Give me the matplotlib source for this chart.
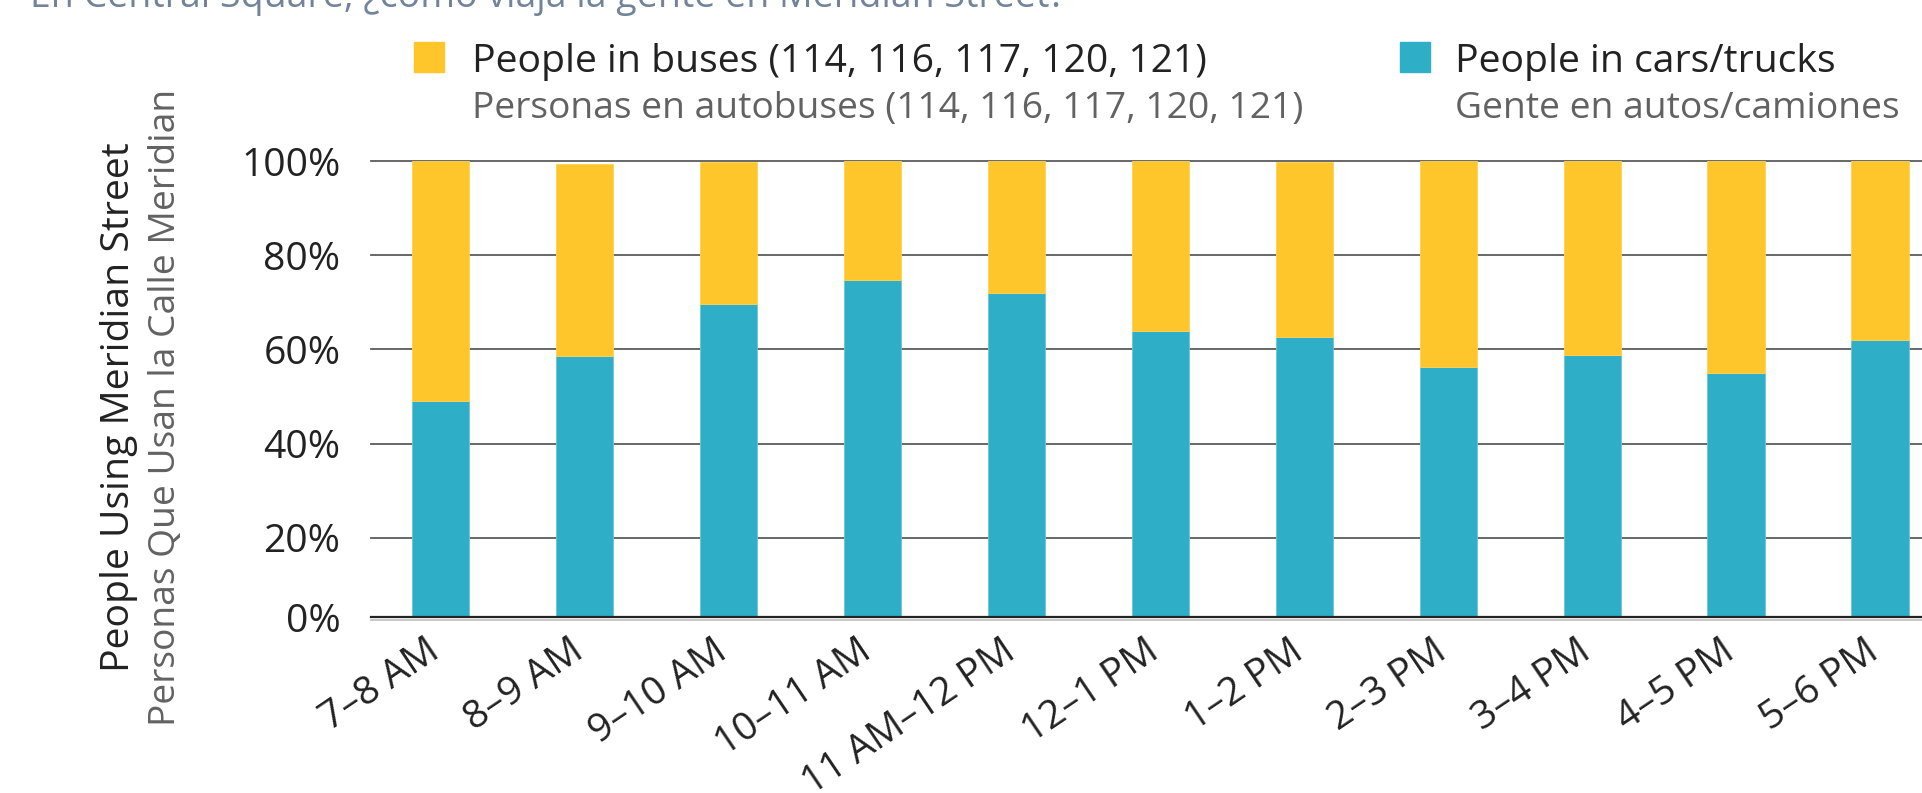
import matplotlib
matplotlib.use("Agg")
import matplotlib.pyplot as plt
from matplotlib.patches import Rectangle
from matplotlib.lines import Line2D
from matplotlib.transforms import ScaledTranslation

plt.rcParams["font.family"] = ["Open Sans", "DejaVu Sans"]

# ---- data -------------------------------------------------------------
time_slots = ["7–8 AM", "8–9 AM", "9–10 AM", "10–11 AM", "11 AM–12 PM",
              "12–1 PM", "1–2 PM", "2–3 PM", "3–4 PM", "4–5 PM", "5–6 PM"]
cars_pct = [49.0, 58.5, 69.6, 74.7, 72.0, 63.9, 62.6, 56.3, 58.8, 54.9, 62.0]
bus_pct = [51.0, 40.9, 30.2, 25.3, 27.9, 36.1, 37.2, 43.7, 41.2, 45.0, 38.0]

y_floor = 3.2
y_tick_values = [y_floor, 20, 40, 60, 80, 100]
y_tick_labels = ["0%", "20%", "40%", "60%", "80%", "100%"]

legend_en = ["People in buses (114, 116, 117, 120, 121)", "People in cars/trucks"]
legend_es = ["Personas en autobuses (114, 116, 117, 120, 121)", "Gente en autos/camiones"]
ylabel_en = "People Using Meridian Street"
ylabel_es = "Personas Que Usan la Calle Meridian"
title_text = "En Central Square, ¿cómo viaja la gente en Meridian Street?"

# ---- style ------------------------------------------------------------
BUS = "#fec62b"
CAR = "#2eafc7"
DARK = "#222222"
GREY = "#626262"
GRID = "#5c5c5c"
FS_EN = 28.2
FS_ES = 26.8
FS_TITLE = 27.0

W, H = 1922, 793
fig = plt.figure(figsize=(W / 100, H / 100), dpi=100)
ax = fig.add_axes([371 / W, 1 - 617 / H, 1 - 371 / W, (617 - 161) / H])

x = list(range(len(time_slots)))
ax.bar(x, cars_pct, width=0.4, color=CAR, edgecolor="#6cc6d6", linewidth=0.6,
       zorder=3)
ax.bar(x, bus_pct, width=0.4, bottom=cars_pct, color=BUS, edgecolor="#fed15a",
       linewidth=0.6, zorder=3)

ax.set_xlim(-0.483, 10.29)
ax.set_ylim(y_floor, 100)

for v in y_tick_values[1:]:
    ax.axhline(v, color=GRID, lw=1.3, zorder=1, clip_on=False)
ax.axhline(y_floor, color=DARK, lw=1.6, zorder=4, clip_on=False)
# faint shadow line just under the baseline
fig.add_artist(Line2D([371 / W, 1], [1 - 619.5 / H] * 2, transform=fig.transFigure,
                      color="#b8b8b8", lw=1.1))

for s in ax.spines.values():
    s.set_visible(False)

ax.set_yticks(y_tick_values)
ax.set_yticklabels(y_tick_labels, fontsize=FS_EN, color=DARK)
ax.tick_params(axis="y", length=0, pad=22)

ax.set_xticks(x)
ax.set_xticklabels(time_slots, fontsize=FS_EN, color=DARK, rotation=34,
                   ha="right", va="center", rotation_mode="anchor")
ax.tick_params(axis="x", length=0, pad=22.3)
shift = ScaledTranslation(-5 / 100, 0, fig.dpi_scale_trans)
for lbl in ax.get_xticklabels():
    lbl.set_transform(lbl.get_transform() + shift)

# ---- y-axis title (two languages) ---------------------------------------
y_mid = 1 - 407 / H
fig.text(129 / W, y_mid, ylabel_en, rotation=90, fontsize=FS_EN, color=DARK,
         ha="center", va="baseline", rotation_mode="anchor")
fig.text(175 / W, y_mid, ylabel_es, rotation=90, fontsize=FS_ES, color=GREY,
         ha="center", va="baseline", rotation_mode="anchor")

# ---- legend -------------------------------------------------------------
for sq_x, txt_x, col, en, es in [(414, 472, BUS, legend_en[0], legend_es[0]),
                                 (1400, 1455, CAR, legend_en[1], legend_es[1])]:
    fig.patches.append(Rectangle((sq_x / W, 1 - 72 / H), 30 / W, 30 / H,
                                 transform=fig.transFigure, color=col))
    fig.text(txt_x / W, 1 - 72 / H, en, fontsize=FS_EN, color=DARK, va="baseline")
    fig.text(txt_x / W, 1 - 118 / H, es, fontsize=FS_ES, color=GREY, va="baseline")

# ---- title, clipped by the top edge -----------------------------------
fig.text(30 / W, 1 - 7 / H, title_text, fontsize=FS_TITLE, color="#71849a",
         va="baseline")

fig.savefig("out.png", dpi=100, facecolor="white")
